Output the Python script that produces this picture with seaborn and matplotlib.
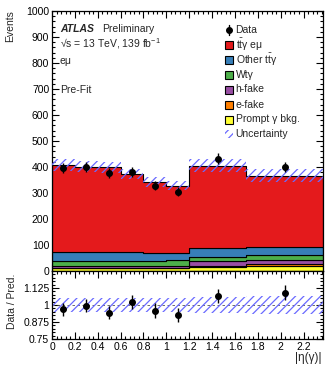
import numpy as np
import pandas as pd
import matplotlib
matplotlib.use("Agg")
import matplotlib.pyplot as plt
import seaborn as sns
from matplotlib.patches import Rectangle
from matplotlib.ticker import MultipleLocator, FixedLocator, FuncFormatter

# |eta(gamma)| binning and per-bin yields
bin_edges = [0.0, 0.2, 0.4, 0.6, 0.8, 1.0, 1.2, 1.7, 2.37]
data_counts = [395, 399, 376, 382, 328, 304, 432, 400]
ttgamma_emu = [335, 328, 327, 301, 272, 260, 316, 275]
other_ttgamma = [35, 35, 34, 34, 30, 27, 34, 32]
wtgamma = [20, 20, 20, 20, 19, 20, 17, 17]
h_fake = [5, 5, 5, 5, 8, 8, 20, 17]
e_fake = [3, 3, 3, 3, 3, 3, 4, 6]
prompt_bkg = [10, 10, 10, 10, 10, 10, 14, 20]
rel_unc = [0.055, 0.055, 0.055, 0.055, 0.055, 0.055, 0.06, 0.068]

process_labels = [r"$\mathregular{t\bar{t}\gamma}$ eμ", r"Other $\mathregular{t\bar{t}\gamma}$",
                  "Wtγ", "h-fake", "e-fake", "Prompt γ bkg."]
process_colors = ["#e41a1c", "#377eb8", "#4daf4a", "#984ea3", "#ff7f00", "#ffff33"]
process_yields = [ttgamma_emu, other_ttgamma, wtgamma, h_fake, e_fake, prompt_bkg]

sns.set_theme(style="ticks")
plt.rcParams["font.family"] = ["Liberation Sans", "DejaVu Sans"]
plt.rcParams["mathtext.fontset"] = "custom"
plt.rcParams["mathtext.rm"] = "Liberation Sans"
plt.rcParams["mathtext.it"] = "Liberation Sans:italic"
plt.rcParams["mathtext.bf"] = "Liberation Sans:bold"
plt.rcParams["hatch.linewidth"] = 0.9

W, H = 326, 371
edges = np.array(bin_edges)
centers = 0.5 * (edges[:-1] + edges[1:])
data = np.array(data_counts, dtype=float)
total = np.sum([np.array(v, dtype=float) for v in process_yields], axis=0)
unc = np.array(rel_unc)

rows = []
for lab, vals in zip(process_labels, process_yields):
    for c, v in zip(centers, vals):
        rows.append({"eta": c, "w": v, "process": lab})
df = pd.DataFrame(rows)

fig = plt.figure(figsize=(W / 100, H / 100), dpi=100)
ax = fig.add_axes([52 / W, 1 - 271 / H, 271 / W, 260 / H])
rax = fig.add_axes([52 / W, 1 - 339 / H, 271 / W, 68 / H])

sns.histplot(data=df, x="eta", weights="w", hue="process", hue_order=process_labels,
             palette=process_colors, bins=bin_edges, multiple="stack", element="step",
             alpha=1, edgecolor="black", linewidth=0.8, legend=False, ax=ax)

hatch_col = "#6a6aff"
ext = lambda a: np.append(a, a[-1])
ax.fill_between(edges, ext(total * (1 - unc)), ext(total * (1 + unc)), step="post",
                facecolor="none", edgecolor=hatch_col, hatch="////", linewidth=0, zorder=4)

ax.errorbar(centers, data, yerr=np.sqrt(data), fmt="o", color="black", ms=4,
            elinewidth=1, capsize=0, zorder=6)

ax.set_xlim(0, 2.37)
ax.set_ylim(0, 1000)
ax.set_xlabel("")
ax.set_ylabel("")
ax.yaxis.set_major_locator(MultipleLocator(100))
ax.yaxis.set_minor_locator(MultipleLocator(20))
ax.xaxis.set_major_locator(MultipleLocator(0.2))
ax.xaxis.set_minor_locator(MultipleLocator(0.04))
ax.tick_params(axis="x", labelbottom=False)

# ratio panel
ratio = data / total
rax.fill_between(edges, ext(1 - unc), ext(1 + unc), step="post", facecolor="none",
                 edgecolor=hatch_col, hatch="////", linewidth=0, zorder=2)
rax.axhline(1, color="#555555", ls=(0, (3, 3)), lw=0.6, zorder=1)
rax.errorbar(centers, ratio, yerr=np.sqrt(data) / total, fmt="o", color="black", ms=4,
             elinewidth=1, capsize=0, zorder=5)
rax.set_xlim(0, 2.37)
rax.set_ylim(0.75, 1.25)
rax.yaxis.set_major_locator(FixedLocator([0.75, 0.875, 1.0, 1.125]))
rax.yaxis.set_minor_locator(MultipleLocator(0.025))
rax.xaxis.set_major_locator(MultipleLocator(0.2))
rax.xaxis.set_minor_locator(MultipleLocator(0.04))
fmt = FuncFormatter(lambda v, p: "%g" % round(v, 3))
rax.xaxis.set_major_formatter(fmt)
rax.yaxis.set_major_formatter(fmt)

for a in (ax, rax):
    a.tick_params(which="both", direction="in", top=True, right=True, labelsize=7.5,
                  width=0.8, colors="black", pad=2)
    a.tick_params(which="major", length=5)
    a.tick_params(which="minor", length=2.5)
    for s in a.spines.values():
        s.set_linewidth(0.9)
        s.set_color("black")

# axis titles
fig.text(10 / W, 1 - 10 / H, "Events", rotation=90, ha="center", va="top", fontsize=7.5)
fig.text(12 / W, 1 - 301 / H, "Data / Pred.", rotation=90, ha="center", va="center", fontsize=7.5)
fig.text(322 / W, 1 - 358 / H, "|η(γ)|", ha="right", va="center", fontsize=8.5)

# panel annotations (pixel positions converted to axes fractions)
ax_x = lambda px: (px - 52) / 271
ax_y = lambda py: (271 - py) / 260
ax.text(ax_x(60), ax_y(29), "ATLAS", transform=ax.transAxes, fontsize=7.5, fontweight="bold",
        style="italic", va="center", ha="left")
ax.text(ax_x(102), ax_y(29), "Preliminary", transform=ax.transAxes, fontsize=7.5,
        va="center", ha="left")
ax.text(ax_x(60), ax_y(44), "√s = 13 TeV, 139 fb$^{-1}$", transform=ax.transAxes,
        fontsize=7.5, va="center", ha="left")
ax.text(ax_x(60), ax_y(61), "eμ", transform=ax.transAxes, fontsize=7.5, va="center", ha="left")
ax.text(ax_x(60), ax_y(90), "Pre-Fit", transform=ax.transAxes, fontsize=7.5, va="center",
        ha="left")

# legend entries
row_y = [30, 44.5, 59.5, 74.5, 89.5, 104.5, 119.5, 134]
labels = ["Data"] + process_labels + ["Uncertainty"]
box_l, box_w, box_h = 225, 8, 8
for i, (py, lab) in enumerate(zip(row_y, labels)):
    if i == 0:
        ax.plot([ax_x(229)], [ax_y(py)], "o", color="black", ms=4, transform=ax.transAxes,
                clip_on=False, zorder=7)
        ax.plot([ax_x(229)] * 2, [ax_y(py - 5), ax_y(py + 5)], color="black", lw=1,
                transform=ax.transAxes, clip_on=False, zorder=7)
    elif i <= len(process_colors):
        ax.add_patch(Rectangle((ax_x(box_l), ax_y(py + box_h / 2)), box_w / 271, box_h / 260,
                               facecolor=process_colors[i - 1], edgecolor="black", lw=0.8,
                               transform=ax.transAxes, clip_on=False, zorder=7))
    else:
        ax.add_patch(Rectangle((ax_x(box_l), ax_y(py + box_h / 2)), box_w / 271, box_h / 260,
                               facecolor="none", edgecolor=hatch_col, hatch="////", lw=0,
                               transform=ax.transAxes, clip_on=False, zorder=7))
    ax.text(ax_x(235.5), ax_y(py), lab, transform=ax.transAxes, fontsize=7.5, va="center",
            ha="left", zorder=7)

fig.savefig("out.png", dpi=100)
